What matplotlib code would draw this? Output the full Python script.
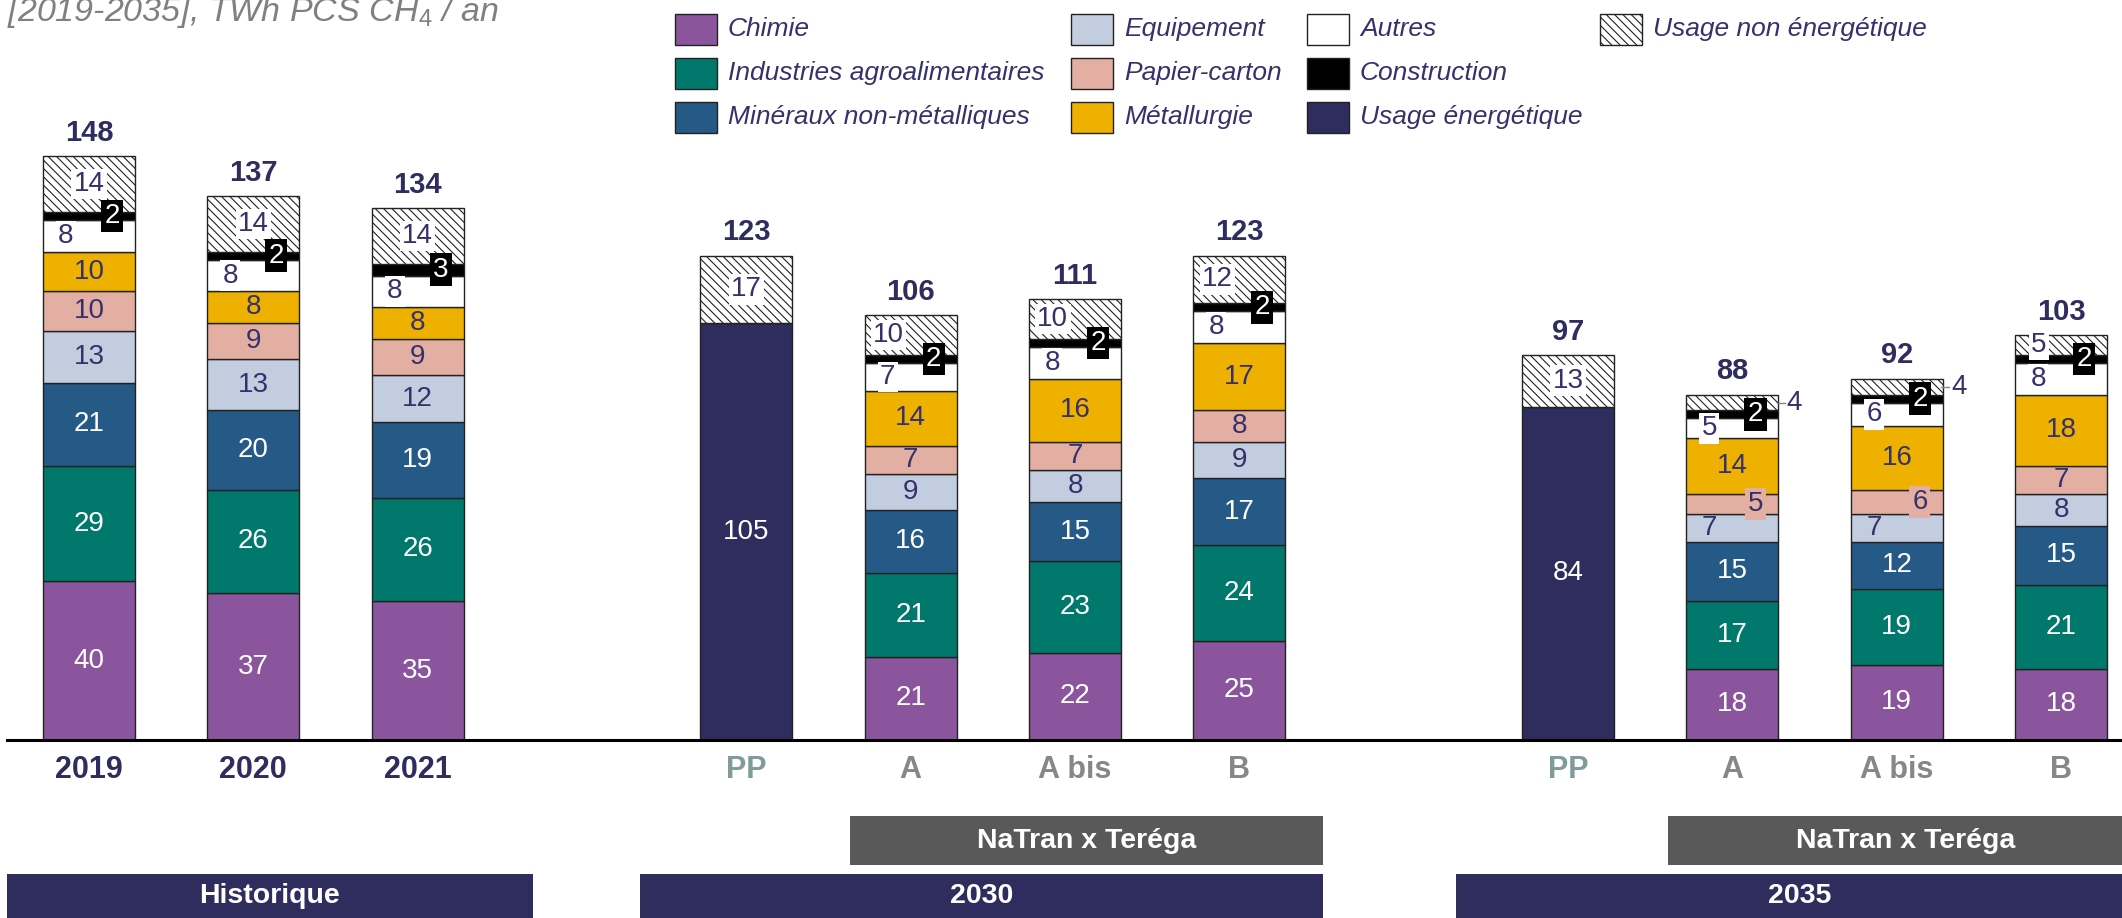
import matplotlib
matplotlib.use("Agg")
import matplotlib.pyplot as plt
from matplotlib import transforms
from matplotlib.patches import Rectangle

plt.rcParams['font.family'] = ['Liberation Sans', 'DejaVu Sans']
plt.rcParams['mathtext.fontset'] = 'custom'
plt.rcParams['mathtext.rm'] = 'Liberation Sans'
plt.rcParams['mathtext.it'] = 'Liberation Sans:italic'
plt.rcParams['mathtext.default'] = 'it'
plt.rcParams['hatch.linewidth'] = 0.8

# --- data (TWh PCS CH4 / an) ---
categories = ['2019', '2020', '2021', 'PP', 'A', 'A bis', 'B', 'PP', 'A', 'A bis', 'B']
kind = ['hist', 'hist', 'hist', 'pp', 'scen', 'scen', 'scen', 'pp', 'scen', 'scen', 'scen']
x_pos = [0, 1, 2, 4, 5, 6, 7, 9, 10, 11, 12]

chimie = [40, 37, 35, 0, 21, 22, 25, 0, 18, 19, 18]
agro = [29, 26, 26, 0, 21, 23, 24, 0, 17, 19, 21]
mineraux = [21, 20, 19, 0, 16, 15, 17, 0, 15, 12, 15]
equipement = [13, 13, 12, 0, 9, 8, 9, 0, 7, 7, 8]
papier = [10, 9, 9, 0, 7, 7, 8, 0, 5, 6, 7]
metallurgie = [10, 8, 8, 0, 14, 16, 17, 0, 14, 16, 18]
autres = [8, 8, 8, 0, 7, 8, 8, 0, 5, 6, 8]
construction = [2, 2, 3, 0, 2, 2, 2, 0, 2, 2, 2]
energetique = [0, 0, 0, 105, 0, 0, 0, 84, 0, 0, 0]
non_energetique = [14, 14, 14, 17, 10, 10, 12, 13, 4, 4, 5]
totals = [148, 137, 134, 123, 106, 111, 123, 97, 88, 92, 103]

NAVY = '#2F2C5E'
TXT = '#35316B'

# name, values, fill colour, label colour, hatch
series = [
    ('Chimie', chimie, '#8A559D', 'white', None),
    ('Industries agroalimentaires', agro, '#00786C', 'white', None),
    ('Minéraux non-métalliques', mineraux, '#265A86', 'white', None),
    ('Equipement', equipement, '#C2CEDF', TXT, None),
    ('Papier-carton', papier, '#E3AFA2', TXT, None),
    ('Métallurgie', metallurgie, '#EEB100', TXT, None),
    ('Autres', autres, 'white', TXT, None),
    ('Construction', construction, 'black', 'white', None),
    ('Usage énergétique', energetique, NAVY, 'white', None),
    ('Usage non énergétique', non_energetique, 'white', TXT, '\\\\\\\\'),
]

W, H = 2122, 918
BASE = 740  # pixel row of the baseline
fig = plt.figure(figsize=(W / 100, H / 100), dpi=100)
ax = fig.add_axes([0, (H - BASE) / H, 1, BASE / H])
ax.set_xlim(-0.541, 12.37)
ax.set_ylim(0, BASE / 3.97)
for s in ax.spines.values():
    s.set_visible(False)
ax.set_yticks([])

LBL = 20
bw = 0.56
bottoms = [0] * len(categories)
for name, vals, color, tcol, hatch in series:
    idx = [i for i, v in enumerate(vals) if v > 0]
    ax.bar([x_pos[i] for i in idx], [vals[i] for i in idx], width=bw,
           bottom=[bottoms[i] for i in idx], color=color, edgecolor='#222222',
           linewidth=1.0, hatch=hatch, zorder=2)
    for i in idx:
        v = vals[i]
        x = x_pos[i]
        y = bottoms[i] + v / 2
        dx = 0
        box = None
        if name == 'Autres':
            dx = -0.14
            box = dict(boxstyle='square,pad=0.08', fc='white', ec='none')
        elif name == 'Construction':
            dx = 0.14
            box = dict(boxstyle='square,pad=0.12', fc='black', ec='none')
        elif name == 'Papier-carton' and v <= 6:
            dx = 0.14
            box = dict(boxstyle='square,pad=0.1', fc=color, ec='none')
        elif name == 'Equipement' and papier[i] <= 6:
            dx = -0.14
        elif name == 'Usage non énergétique':
            if v <= 4:
                ax.plot([x + 0.27, x + 0.32], [y, y], color='#888888', lw=1, zorder=3)
                ax.text(x + 0.33, y, str(v), ha='left', va='center',
                        fontsize=LBL, color=TXT, zorder=4)
                continue
            if kind[i] == 'scen':
                dx = -0.135
            box = dict(boxstyle='square,pad=0.08', fc='white', ec='none')
        ax.text(x + dx, y, str(v), ha='center', va='center', fontsize=LBL,
                color=tcol, bbox=box, zorder=4)
    bottoms = [b + v for b, v in zip(bottoms, vals)]

# totals above bars
for i, t in enumerate(totals):
    ax.annotate(str(t), (x_pos[i], bottoms[i]), xytext=(0, 11),
                textcoords='offset points', ha='center', va='baseline',
                fontsize=21, fontweight='bold', color=NAVY)

# baseline
ax.axhline(0, xmin=7 / W, color='black', lw=2.2, zorder=5, clip_on=False)

# category labels
ax.set_xticks(x_pos, categories)
ax.tick_params(axis='x', length=0, pad=11)
label_colors = {'hist': NAVY, 'pp': '#7F9C9A', 'scen': '#878787'}
for lab, k in zip(ax.get_xticklabels(), kind):
    lab.set_color(label_colors[k])
    lab.set_fontweight('bold')
    lab.set_fontsize(22)

# group bands under the axis
trans = transforms.blended_transform_factory(ax.transData, fig.transFigure)


def band(x0, x1, top_px, bot_px, color, text):
    y0 = 1 - bot_px / H
    h = (bot_px - top_px) / H
    ax.add_patch(Rectangle((x0, y0), x1 - x0, h, transform=trans,
                           facecolor=color, edgecolor='none', clip_on=False))
    ax.text((x0 + x1) / 2, y0 + h / 2, text, transform=trans, ha='center',
            va='center', fontsize=20.5, fontweight='bold', color='white')


band(4.63, 7.51, 816, 865, '#595959', 'NaTran x Teréga')
band(9.61, 12.5, 816, 865, '#595959', 'NaTran x Teréga')
band(-0.50, 2.70, 874, 918, NAVY, 'Historique')
band(3.35, 7.51, 874, 918, NAVY, '2030')
band(8.32, 12.5, 874, 918, NAVY, '2035')

# legend, laid out like the original (columns of three)
legend_cols = [675, 1071, 1307, 1600]
legend_rows = [29, 73, 117]
for k, (name, vals, color, tcol, hatch) in enumerate(series):
    cx = legend_cols[k // 3]
    cy = legend_rows[k % 3]
    fig.add_artist(Rectangle((cx / W, 1 - (cy + 15.5) / H), 42 / W, 31 / H,
                             transform=fig.transFigure, facecolor=color,
                             edgecolor='#222222', linewidth=1.0, hatch=hatch))
    fig.text((cx + 53) / W, 1 - cy / H, name, ha='left', va='center',
             fontsize=19, style='italic', color=TXT)

# partially visible heading at the top
fig.text(7 / W, 1 - 21 / H, r'[2019-2035], TWh PCS CH$_4$ / an', ha='left',
         va='baseline', fontsize=24.5, style='italic', color='#808080')

fig.savefig('out.png', dpi=100)
